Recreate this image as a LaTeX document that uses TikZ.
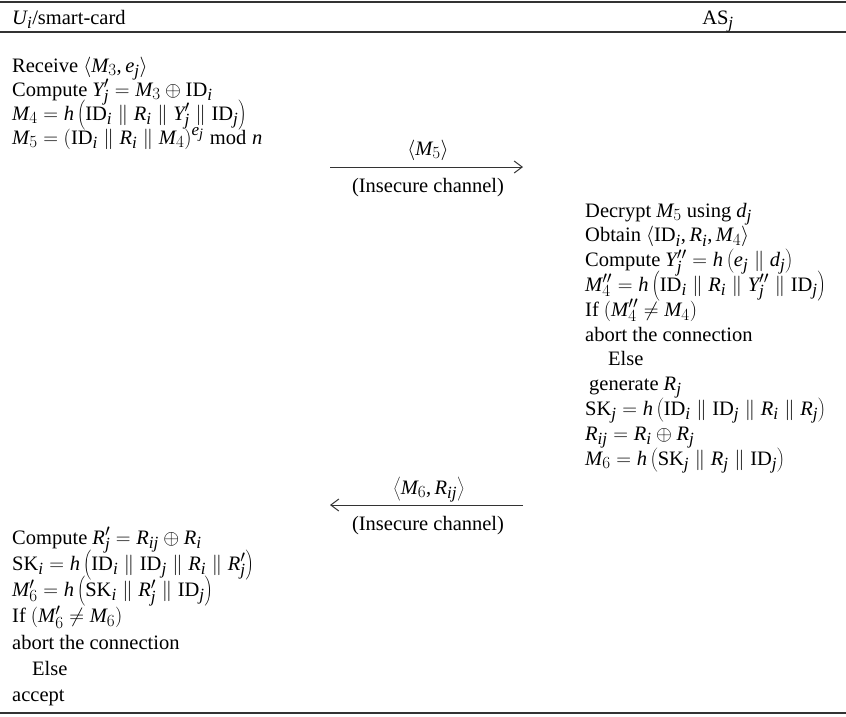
\RequirePackage{fix-cm}
\documentclass[tikz,border=0pt]{standalone}
\usepackage{fontspec}
\setmainfont{Liberation Serif}
\usepackage[italic]{mathastext}
\usetikzlibrary{arrows.meta}
\newcommand{\cat}{\parallel}
\newcommand{\idn}[1]{\mathrm{ID}_{#1}}
\begin{document}
\begin{tikzpicture}[x=1pt,y=-1pt,
  txt/.style={anchor=base west,inner sep=0pt,font=\fontsize{20.5}{24}\selectfont},
  lbl/.style={anchor=base,inner sep=0pt,font=\fontsize{20.5}{24}\selectfont},
  rulex/.style={line width=1.5pt,draw=black!80},
  msg/.style={line width=1pt,draw=black!80,-{Straight Barb[length=8pt,width=12pt,line width=1pt]}}]
\useasboundingbox (0,0) rectangle (846,716);

% table rules
\coordinate (tl) at (0,2);   \coordinate (tr) at (846,2);
\coordinate (ml) at (0,32);  \coordinate (mr) at (846,32);
\coordinate (bl) at (0,713); \coordinate (br) at (846,713);
\draw[rulex] (tl) -- (tr);
\draw[rulex] (ml) -- (mr);
\draw[rulex] (bl) -- (br);

% column heads
\node[txt] (hu) at (12,24) {$U_i$/smart-card};
\node[lbl] (ha) at (718,24) {AS$_j$};

% user side, first step
\node[txt] (u1) at (12,72)  {Receive $\langle M_3, e_j\rangle$};
\node[txt] (u2) at (12,96)  {Compute $Y_j' = M_3 \oplus \idn{i}$};
\node[txt] (u3) at (12,120) {$M_4 = h\left(\idn{i} \cat R_i \cat Y_j' \cat \idn{j}\right)$};
\node[txt] (u4) at (12,144) {$M_5 = \left(\idn{i} \cat R_i \cat M_4\right)^{e_j} \bmod n$};

% message 1
\coordinate (m1s) at (330,167);
\coordinate (m1e) at (523,167);
\draw[msg] (m1s) -- (m1e);
\node[lbl] (m1t) at (428,155) {$\langle M_5\rangle$};
\node[lbl] (m1b) at (428,192) {(Insecure channel)};

% server side
\node[txt] (s1)  at (585,217)   {Decrypt $M_5$ using $d_j$};
\node[txt] (s2)  at (585,241.8) {Obtain $\langle \idn{i}, R_i, M_4\rangle$};
\node[txt] (s3)  at (585,266.6) {Compute $Y_j'' = h\left(e_j \cat d_j\right)$};
\node[txt] (s4)  at (585,291.4) {$M_4'' = h\left(\idn{i} \cat R_i \cat Y_j'' \cat \idn{j}\right)$};
\node[txt] (s5)  at (585,316.2) {If $(M_4'' \neq M_4)$};
\node[txt] (s6)  at (585,341)   {abort the connection};
\node[txt] (s7)  at (608,365.8) {Else};
\node[txt] (s8)  at (589,390.6) {generate $R_j$};
\node[txt] (s9)  at (585,415.4) {$\mathrm{SK}_j = h\left(\idn{i} \cat \idn{j} \cat R_i \cat R_j\right)$};
\node[txt] (s10) at (585,440.2) {$R_{ij} = R_i \oplus R_j$};
\node[txt] (s11) at (585,465)   {$M_6 = h\left(\mathrm{SK}_j \cat R_j \cat \idn{j}\right)$};

% message 2
\coordinate (m2s) at (523,505);
\coordinate (m2e) at (330,505);
\draw[msg] (m2s) -- (m2e);
\node[lbl] (m2t) at (429,494) {$\left\langle M_6, R_{ij}\right\rangle$};
\node[lbl] (m2b) at (428,530) {(Insecure channel)};

% user side, final step
\node[txt] (v1) at (12,544)   {Compute $R_j' = R_{ij} \oplus R_i$};
\node[txt] (v2) at (12,570.3) {$\mathrm{SK}_i = h\left(\idn{i} \cat \idn{j} \cat R_i \cat R_j'\right)$};
\node[txt] (v3) at (12,596.6) {$M_6' = h\left(\mathrm{SK}_i \cat R_j' \cat \idn{j}\right)$};
\node[txt] (v4) at (12,622.9) {If $(M_6' \neq M_6)$};
\node[txt] (v5) at (12,649.2) {abort the connection};
\node[txt] (v6) at (32,675.5) {Else};
\node[txt] (v7) at (12,701.8) {accept};
\end{tikzpicture}
\end{document}
